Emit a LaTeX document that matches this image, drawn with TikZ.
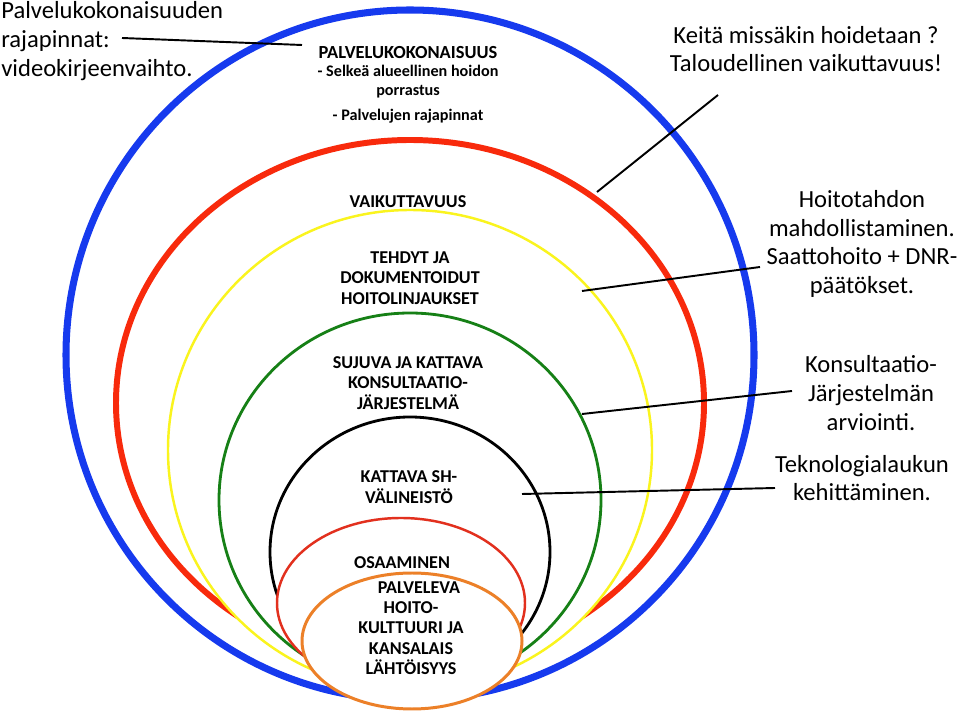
\documentclass[tikz,border=0pt]{standalone}
\usepackage{fontspec}
\setmainfont{Carlito}
\usepackage{tikz}
\usetikzlibrary{positioning}
\definecolor{ringBlue}{RGB}{22,58,238}
\definecolor{ringRed}{RGB}{248,42,12}
\definecolor{ringYellow}{RGB}{250,244,30}
\definecolor{ringGreen}{RGB}{22,128,22}
\definecolor{ringInnerRed}{RGB}{226,48,30}
\definecolor{ringOrange}{RGB}{236,128,40}

\begin{document}
\begin{tikzpicture}[x=0.02cm, y=-0.02cm,
    ring/.style={draw=#1, fill=white},
    lbl/.style={font=\fontsize{10.3}{11.6}\selectfont\bfseries, align=center, inner sep=0pt},
    note/.style={font=\fontsize{14}{16.4}\selectfont, align=center, inner sep=0pt},
    lead/.style={line width=1.1pt, black}]

    \useasboundingbox (0,0) rectangle (960,715);

    % Nested rings, outer first
    \draw[ring=ringBlue, line width=4pt] (410,355) ellipse [x radius=344, y radius=345];
    \draw[ring=ringRed, line width=3.4pt] (410,403) ellipse [x radius=294, y radius=263];
    \draw[ring=ringYellow, line width=1.4pt] (410,450) ellipse [x radius=242, y radius=240];
    \draw[ring=ringGreen, line width=1.6pt] (410,500) ellipse [x radius=191, y radius=187];
    \draw[ring=black, line width=1.6pt] (410,552) ellipse [x radius=140, y radius=135];
    \draw[ring=ringInnerRed, line width=1.4pt] (401,603) ellipse [x radius=124, y radius=85];
    \draw[ring=ringOrange, line width=1.7pt] (412,641) ellipse [x radius=110, y radius=68];

    % Ring labels
    \node[lbl, anchor=north, font=\fontsize{9.2}{10.5}\selectfont\bfseries] (kokonaisuus) at (408,46)
      {{\fontsize{10.5}{10.5}\selectfont PALVELUKOKONAISUUS}\\- Selkeä alueellinen hoidon\\porrastus\\[4pt]- Palvelujen rajapinnat};
    \node[lbl] (vaik) at (408,202) {VAIKUTTAVUUS};
    \node[lbl] (tehdyt) at (410,278) {TEHDYT JA\\DOKUMENTOIDUT\\HOITOLINJAUKSET};
    \node[lbl] (sujuva) at (408,383) {SUJUVA JA KATTAVA\\KONSULTAATIO-\\JÄRJESTELMÄ};
    \node[lbl] (valineisto) at (409,487) {KATTAVA SH-\\VÄLINEISTÖ};
    \node[lbl] (osaaminen) at (402,563) {OSAAMINEN};
    \node[lbl] (kulttuuri) at (411,628) {\hspace*{9pt}PALVELEVA\\HOITO-\\KULTTUURI JA\\KANSALAIS\\LÄHTÖISYYS};

    % Side notes
    \node[note, anchor=west, align=left] (rajapinnat) at (1,41)
      {Palvelukokonaisuuden\\rajapinnat:\\videokirjeenvaihto.};
    \node[note] (talous) at (806,49) {Keitä missäkin hoidetaan ?\\Taloudellinen vaikuttavuus!};
    \node[note] (hoitotahto) at (862,244) {Hoitotahdon\\mahdollistaminen.\\Saattohoito + DNR-\\päätökset.};
    \node[note] (arviointi) at (871,393) {Konsultaatio-\\Järjestelmän\\arviointi.};
    \node[note] (teknologia) at (862,478) {Teknologialaukun\\kehittäminen.};

    % Leader lines
    \coordinate (rajapinnatEnd) at (122,38);
    \coordinate (kokonaisuusEnd) at (302,45);
    \coordinate (talousEnd) at (718,95);
    \coordinate (vaikEnd) at (597,192);
    \coordinate (tehdytEnd) at (582,291);
    \coordinate (hoitotahtoEnd) at (760,267);
    \coordinate (sujuvaEnd) at (582,414);
    \coordinate (arviointiEnd) at (792,391);
    \coordinate (valineistoEnd) at (522,494);
    \coordinate (teknologiaEnd) at (775,488);

    \draw[lead] (rajapinnatEnd) -- (kokonaisuusEnd);
    \draw[lead] (talousEnd) -- (vaikEnd);
    \draw[lead] (tehdytEnd) -- (hoitotahtoEnd);
    \draw[lead] (sujuvaEnd) -- (arviointiEnd);
    \draw[lead] (valineistoEnd) -- (teknologiaEnd);

\end{tikzpicture}
\end{document}
